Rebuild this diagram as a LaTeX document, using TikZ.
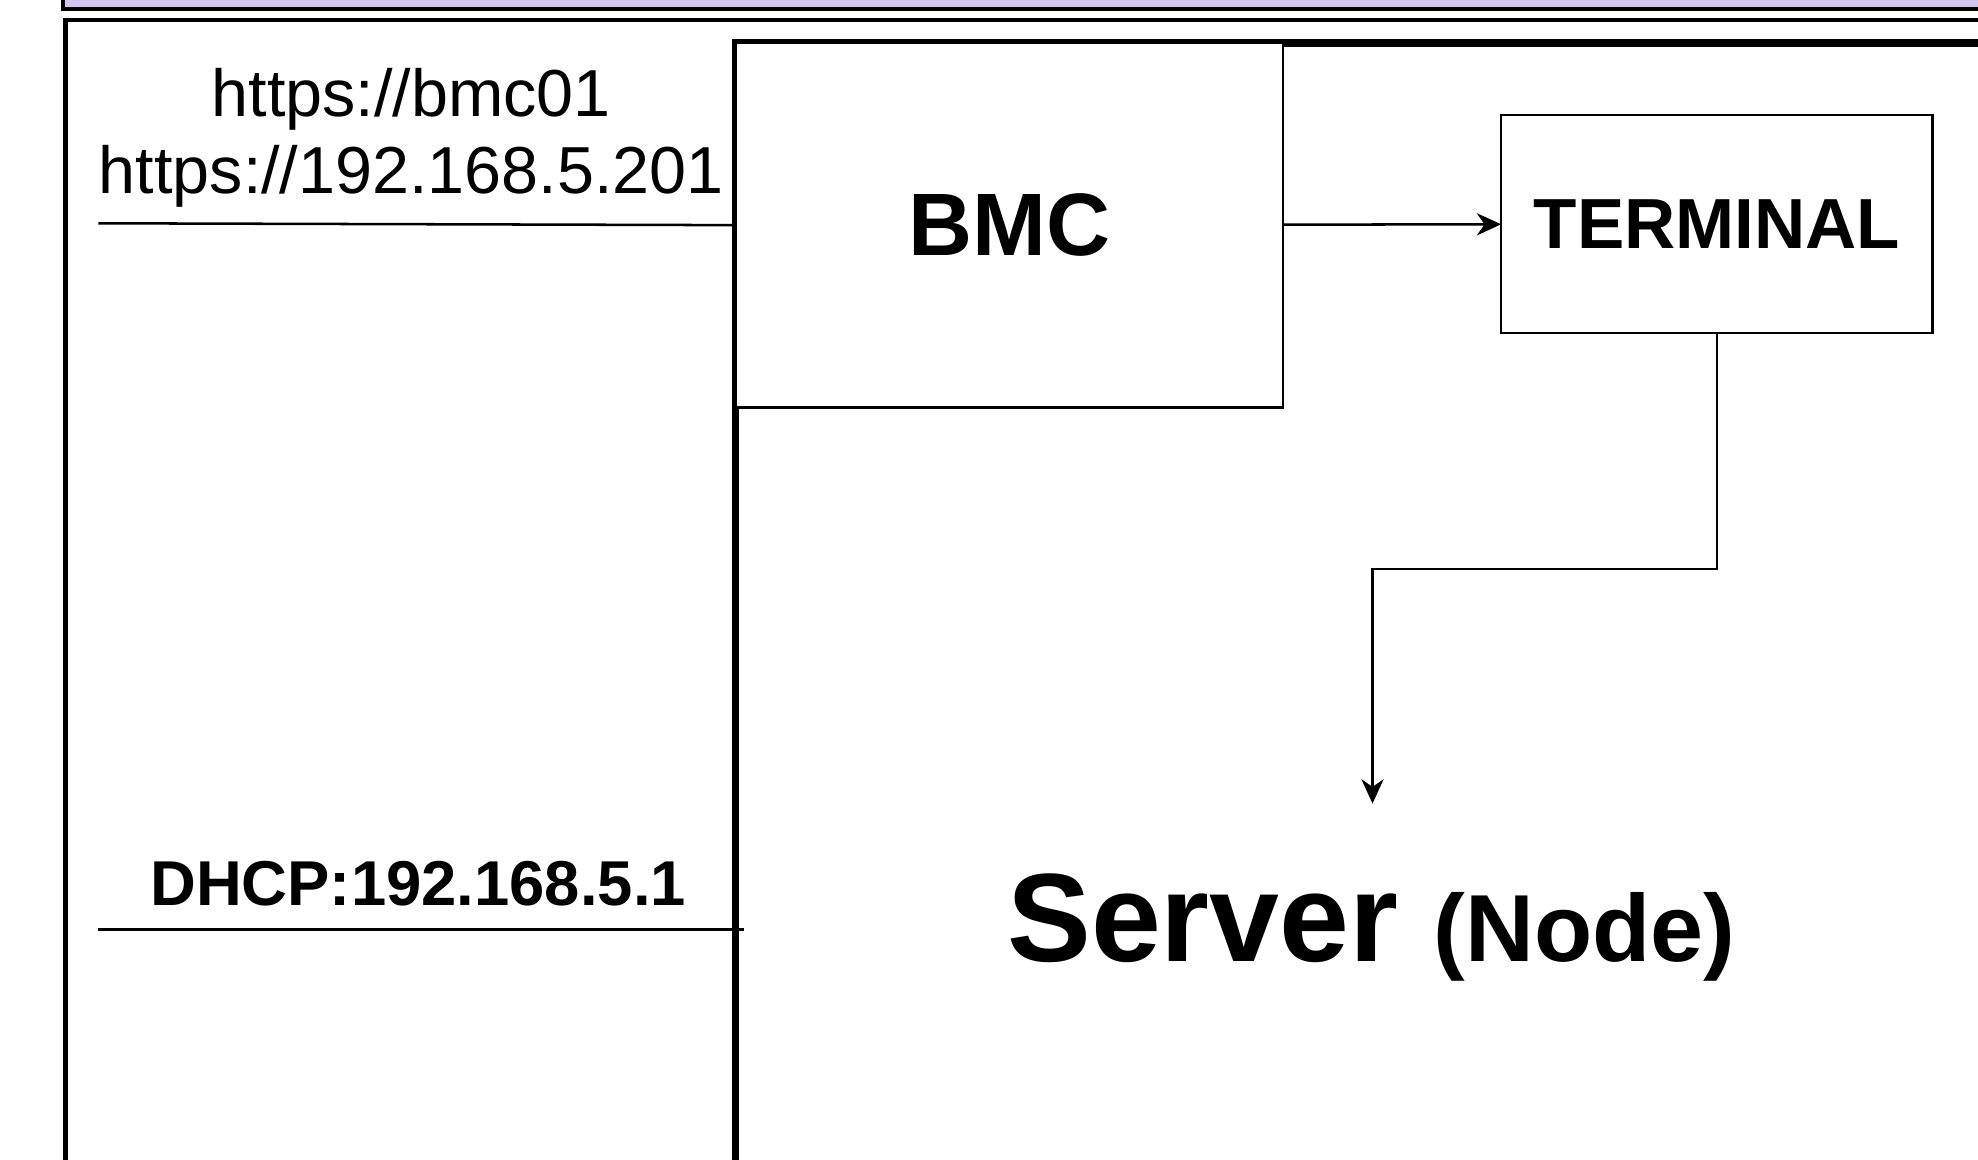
\documentclass[tikz,border=0pt]{standalone}
\usepackage{fontspec}
\setmainfont{Liberation Sans}
\usetikzlibrary{arrows.meta}
\definecolor{bandlilac}{RGB}{208,196,240}

\begin{document}
\begin{tikzpicture}[x=0.02cm, y=-0.02cm,
		box/.style={draw, line width=0.4mm, fill=white, inner sep=0pt, outer sep=0pt},
		wire/.style={line width=0.4mm},
		flow/.style={line width=0.4mm, -{Stealth[length=11pt, width=10pt, inset=3.5pt]}}]
		%%%%% START %%%%%
		\useasboundingbox (0, 0) rectangle (1568, 919);
		\clip (0, 0) rectangle (1568, 919);
		
		\draw[line width=0.6mm, fill=bandlilac] (50, -40) rectangle (1620, 7);
		\draw[line width=0.7mm] (52, 16) rectangle (1620, 1000);
		
		\node[draw, line width=1.2mm, inner sep=0pt, outer sep=0pt, anchor=north west, minimum width=24cm, minimum height=20cm] (server) at (583, 34) {};
		
		\node[box, anchor=north west, minimum width=8.68cm, minimum height=5.78cm, font=\bfseries\fontsize{40}{48}\selectfont] (bmc) at (server.north west) {BMC};
		\node[box, minimum width=6.84cm, minimum height=3.46cm, font=\bfseries\fontsize{32}{38}\selectfont] (term) at (1361, 177.5) {TERMINAL};
		
		\draw[flow] (bmc) -- (term);
		
		\coordinate (bend) at (1088, 451);
		\coordinate (drop) at (1088, 637);
		\draw[flow] (term.south) |- (bend) -- (drop);
		
		\node[anchor=base, font=\bfseries\fontsize{56.7}{68}\selectfont] (srvlabel) at (1087, 762) {Server {\fontsize{43}{50}\selectfont (Node)}};
		
		\node[anchor=south, inner sep=0pt, align=center, font=\fontsize{30}{34.6}\selectfont] (web) at (326, 164.5) {https://bmc01\\https://192.168.5.201};
		\coordinate (webL) at (78, 177);
		\draw[wire] (webL) -- (bmc.west);
		
		\node[anchor=base, font=\bfseries\fontsize{28.6}{34}\selectfont] (dhcp) at (331.5, 718) {DHCP:192.168.5.1};
		\coordinate (dhcpL) at (78, 737);
		\coordinate (dhcpR) at (590, 737);
		\draw[wire] (dhcpL) -- (dhcpR);
		
		%%%%% END %%%%%
\end{tikzpicture}
\end{document}
